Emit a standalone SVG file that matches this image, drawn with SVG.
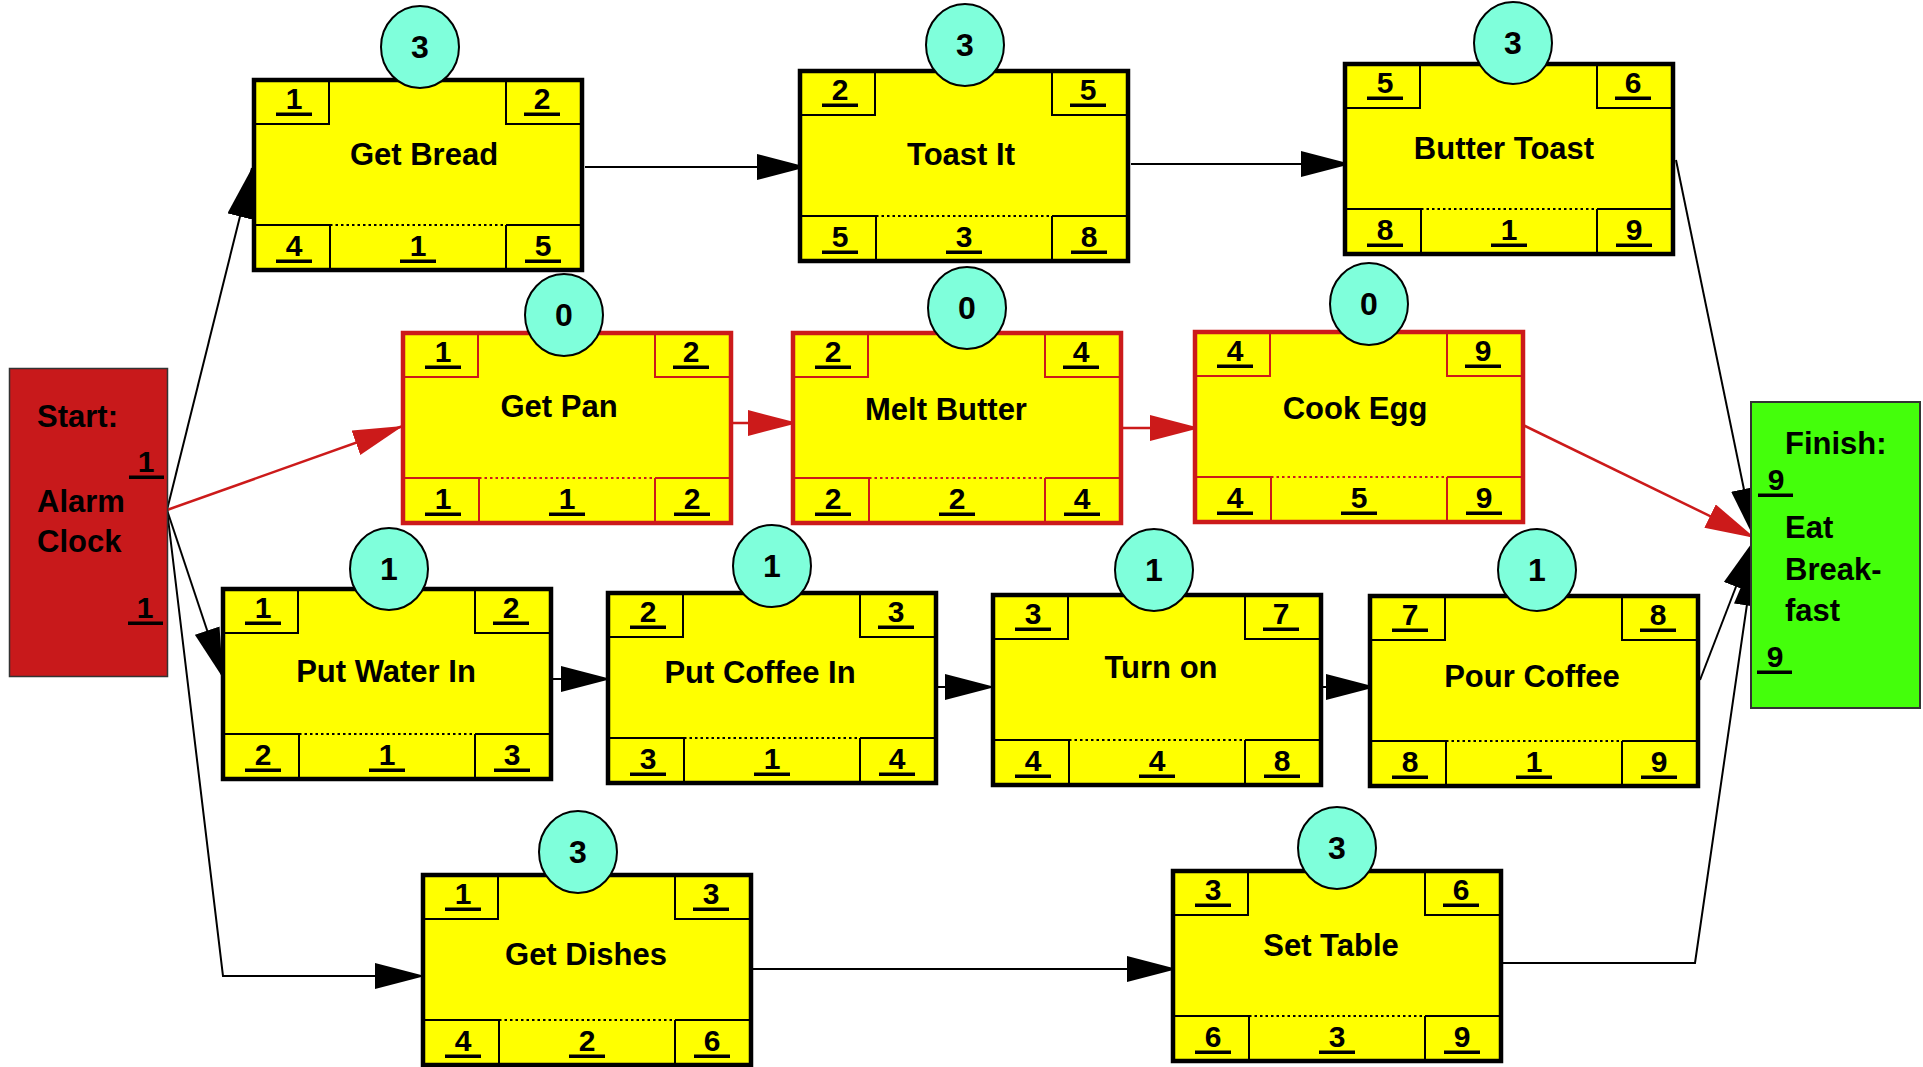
<svg xmlns="http://www.w3.org/2000/svg" width="1923" height="1067" viewBox="0 0 1923 1067">
<style>
text{font-family:"Liberation Sans",Arial,sans-serif;font-weight:bold;fill:#000}
.t{font-size:31px;text-anchor:middle}
.lt{font-size:31px}
.n{font-size:30px;text-anchor:middle}
.d{font-size:32px;text-anchor:middle}
.box{fill:#FFFF00;stroke:#000;stroke-width:4.5}
.rbox{fill:#FFFF00;stroke:#CC1A1A;stroke-width:4.5}
.cell{fill:none;stroke:#000;stroke-width:2}
.rcell{fill:none;stroke:#CC1A1A;stroke-width:2}
.dot{fill:none;stroke:#000;stroke-width:2;stroke-dasharray:2.5 3}
.rdot{fill:none;stroke:#CC1A1A;stroke-width:2;stroke-dasharray:2.5 3}
.dur{fill:#7FFFDB;stroke:#000;stroke-width:2}
.ul{fill:#000}
.c{fill:none;stroke:#000;stroke-width:2}
.rc{fill:none;stroke:#CC1A1A;stroke-width:2.5}
</style>
<defs>
<marker id="ab" markerUnits="userSpaceOnUse" markerWidth="50" markerHeight="26" viewBox="0 0 50 26" refX="50" refY="13" orient="auto"><path d="M0,0 L50,13 L0,26 z" fill="#000"/></marker>
<marker id="ar" markerUnits="userSpaceOnUse" markerWidth="50" markerHeight="26" viewBox="0 0 50 26" refX="50" refY="13" orient="auto"><path d="M0,0 L50,13 L0,26 z" fill="#CC1A1A"/></marker>
<g id="cellsK">
<path class="cell" d="M77,2 V46 H2 M254,2 V46 H330 M2,147 H78 M254,147 H330 M78,147 V192 M254,147 V192"/>
<path class="dot" d="M78,147 H254"/>
</g>
<g id="cellsR">
<path class="rcell" d="M77,2 V46 H2 M254,2 V46 H330 M2,147 H78 M254,147 H330 M78,147 V192 M254,147 V192"/>
<path class="rdot" d="M78,147 H254"/>
</g>
<g id="uls">
<rect class="ul" x="24" y="34.5" width="36" height="3.5"/>
<rect class="ul" x="272" y="34.5" width="36" height="3.5"/>
<rect class="ul" x="24" y="181.5" width="36" height="3.5"/>
<rect class="ul" x="148" y="181.5" width="36" height="3.5"/>
<rect class="ul" x="273" y="181.5" width="36" height="3.5"/>
</g>
</defs>

<g id="connectors">
<line class="c" x1="167" y1="510" x2="252" y2="168" marker-end="url(#ab)"/>
<line class="rc" x1="167" y1="510" x2="403" y2="426" marker-end="url(#ar)"/>
<line class="c" x1="167" y1="510" x2="223" y2="678" marker-end="url(#ab)"/>
<polyline class="c" points="167,510 223,976 425,976" marker-end="url(#ab)"/>
<line class="c" x1="585" y1="167" x2="807" y2="167" marker-end="url(#ab)"/>
<line class="c" x1="1131" y1="164" x2="1351" y2="164" marker-end="url(#ab)"/>
<line class="c" x1="1676" y1="160" x2="1754" y2="538" marker-end="url(#ab)"/>
<line class="rc" x1="732" y1="423" x2="798" y2="423" marker-end="url(#ar)"/>
<line class="rc" x1="1123" y1="428" x2="1200" y2="428" marker-end="url(#ar)"/>
<line class="rc" x1="1523" y1="425" x2="1755" y2="538" marker-end="url(#ar)"/>
<line class="c" x1="552" y1="679" x2="611" y2="679" marker-end="url(#ab)"/>
<line class="c" x1="937" y1="687" x2="995" y2="687" marker-end="url(#ab)"/>
<line class="c" x1="1323" y1="687" x2="1376" y2="687" marker-end="url(#ab)"/>
<line class="c" x1="1700" y1="680" x2="1754" y2="540" marker-end="url(#ab)"/>
<line class="c" x1="751" y1="969" x2="1177" y2="969" marker-end="url(#ab)"/>
<polyline class="c" points="1503,963 1695,963 1754,556" marker-end="url(#ab)"/>
</g>

<g id="start">
<rect x="9.5" y="368.5" width="158" height="308" fill="#C8191B" stroke="#333" stroke-width="1.5"/>
<text class="lt" x="37" y="427">Start:</text>
<text class="n" x="146" y="472">1</text>
<rect class="ul" x="129" y="475.5" width="35" height="3.5"/>
<text class="lt" x="37" y="512">Alarm</text>
<text class="lt" x="37" y="552">Clock</text>
<text class="n" x="145" y="618">1</text>
<rect class="ul" x="128" y="621.5" width="35" height="3.5"/>
</g>

<g id="finish">
<rect x="1751" y="402" width="169" height="306" fill="#44FF0B" stroke="#333" stroke-width="2"/>
<text class="lt" x="1785" y="454">Finish:</text>
<text class="n" x="1776" y="490">9</text>
<rect class="ul" x="1758" y="493.5" width="35" height="3.5"/>
<text class="lt" x="1785" y="538">Eat</text>
<text class="lt" x="1785" y="580">Break-</text>
<text class="lt" x="1785" y="621">fast</text>
<text class="n" x="1775" y="667">9</text>
<rect class="ul" x="1757" y="670.5" width="35" height="3.5"/>
</g>

<g id="getBread" transform="translate(252,78)">
<rect class="box" x="2" y="2" width="328" height="190"/>
<use href="#cellsK"/><use href="#uls"/>
<text class="n" x="42" y="31">1</text><text class="n" x="290" y="31">2</text>
<text class="n" x="42" y="178">4</text><text class="n" x="166" y="178">1</text><text class="n" x="291" y="178">5</text>
<text class="t" x="172" y="87">Get Bread</text>
<ellipse class="dur" cx="168" cy="-31" rx="39" ry="41"/><text class="d" x="168" y="-20">3</text>
</g>

<g id="toastIt" transform="translate(798,69)">
<rect class="box" x="2" y="2" width="328" height="190"/>
<use href="#cellsK"/><use href="#uls"/>
<text class="n" x="42" y="31">2</text><text class="n" x="290" y="31">5</text>
<text class="n" x="42" y="178">5</text><text class="n" x="166" y="178">3</text><text class="n" x="291" y="178">8</text>
<text class="t" x="163" y="96">Toast It</text>
<ellipse class="dur" cx="167" cy="-24" rx="39" ry="41"/><text class="d" x="167" y="-13">3</text>
</g>

<g id="butterToast" transform="translate(1343,62)">
<rect class="box" x="2" y="2" width="328" height="190"/>
<use href="#cellsK"/><use href="#uls"/>
<text class="n" x="42" y="31">5</text><text class="n" x="290" y="31">6</text>
<text class="n" x="42" y="178">8</text><text class="n" x="166" y="178">1</text><text class="n" x="291" y="178">9</text>
<text class="t" x="161" y="97">Butter Toast</text>
<ellipse class="dur" cx="170" cy="-19" rx="39" ry="41"/><text class="d" x="170" y="-8">3</text>
</g>

<g id="getPan" transform="translate(401,331)">
<rect class="rbox" x="2" y="2" width="328" height="190"/>
<use href="#cellsR"/><use href="#uls"/>
<text class="n" x="42" y="31">1</text><text class="n" x="290" y="31">2</text>
<text class="n" x="42" y="178">1</text><text class="n" x="166" y="178">1</text><text class="n" x="291" y="178">2</text>
<text class="t" x="158" y="86">Get Pan</text>
<ellipse class="dur" cx="163" cy="-16" rx="39" ry="41"/><text class="d" x="163" y="-5">0</text>
</g>

<g id="meltButter" transform="translate(791,331)">
<rect class="rbox" x="2" y="2" width="328" height="190"/>
<use href="#cellsR"/><use href="#uls"/>
<text class="n" x="42" y="31">2</text><text class="n" x="290" y="31">4</text>
<text class="n" x="42" y="178">2</text><text class="n" x="166" y="178">2</text><text class="n" x="291" y="178">4</text>
<text class="t" x="155" y="89">Melt Butter</text>
<ellipse class="dur" cx="176" cy="-23" rx="39" ry="41"/><text class="d" x="176" y="-12">0</text>
</g>

<g id="cookEgg" transform="translate(1193,330)">
<rect class="rbox" x="2" y="2" width="328" height="190"/>
<use href="#cellsR"/><use href="#uls"/>
<text class="n" x="42" y="31">4</text><text class="n" x="290" y="31">9</text>
<text class="n" x="42" y="178">4</text><text class="n" x="166" y="178">5</text><text class="n" x="291" y="178">9</text>
<text class="t" x="162" y="89">Cook Egg</text>
<ellipse class="dur" cx="176" cy="-26" rx="39" ry="41"/><text class="d" x="176" y="-15">0</text>
</g>

<g id="putWaterIn" transform="translate(221,587)">
<rect class="box" x="2" y="2" width="328" height="190"/>
<use href="#cellsK"/><use href="#uls"/>
<text class="n" x="42" y="31">1</text><text class="n" x="290" y="31">2</text>
<text class="n" x="42" y="178">2</text><text class="n" x="166" y="178">1</text><text class="n" x="291" y="178">3</text>
<text class="t" x="165" y="95">Put Water In</text>
<ellipse class="dur" cx="168" cy="-18" rx="39" ry="41"/><text class="d" x="168" y="-7">1</text>
</g>

<g id="putCoffeeIn" transform="translate(606,591)">
<rect class="box" x="2" y="2" width="328" height="190"/>
<use href="#cellsK"/><use href="#uls"/>
<text class="n" x="42" y="31">2</text><text class="n" x="290" y="31">3</text>
<text class="n" x="42" y="178">3</text><text class="n" x="166" y="178">1</text><text class="n" x="291" y="178">4</text>
<text class="t" x="154" y="92">Put Coffee In</text>
<ellipse class="dur" cx="166" cy="-25" rx="39" ry="41"/><text class="d" x="166" y="-14">1</text>
</g>

<g id="turnOn" transform="translate(991,593)">
<rect class="box" x="2" y="2" width="328" height="190"/>
<use href="#cellsK"/><use href="#uls"/>
<text class="n" x="42" y="31">3</text><text class="n" x="290" y="31">7</text>
<text class="n" x="42" y="178">4</text><text class="n" x="166" y="178">4</text><text class="n" x="291" y="178">8</text>
<text class="t" x="170" y="85">Turn on</text>
<ellipse class="dur" cx="163" cy="-23" rx="39" ry="41"/><text class="d" x="163" y="-12">1</text>
</g>

<g id="pourCoffee" transform="translate(1368,594)">
<rect class="box" x="2" y="2" width="328" height="190"/>
<use href="#cellsK"/><use href="#uls"/>
<text class="n" x="42" y="31">7</text><text class="n" x="290" y="31">8</text>
<text class="n" x="42" y="178">8</text><text class="n" x="166" y="178">1</text><text class="n" x="291" y="178">9</text>
<text class="t" x="164" y="93">Pour Coffee</text>
<ellipse class="dur" cx="169" cy="-24" rx="39" ry="41"/><text class="d" x="169" y="-13">1</text>
</g>

<g id="getDishes" transform="translate(421,873)">
<rect class="box" x="2" y="2" width="328" height="190"/>
<use href="#cellsK"/><use href="#uls"/>
<text class="n" x="42" y="31">1</text><text class="n" x="290" y="31">3</text>
<text class="n" x="42" y="178">4</text><text class="n" x="166" y="178">2</text><text class="n" x="291" y="178">6</text>
<text class="t" x="165" y="92">Get Dishes</text>
<ellipse class="dur" cx="157" cy="-21" rx="39" ry="41"/><text class="d" x="157" y="-10">3</text>
</g>

<g id="setTable" transform="translate(1171,869)">
<rect class="box" x="2" y="2" width="328" height="190"/>
<use href="#cellsK"/><use href="#uls"/>
<text class="n" x="42" y="31">3</text><text class="n" x="290" y="31">6</text>
<text class="n" x="42" y="178">6</text><text class="n" x="166" y="178">3</text><text class="n" x="291" y="178">9</text>
<text class="t" x="160" y="87">Set Table</text>
<ellipse class="dur" cx="166" cy="-21" rx="39" ry="41"/><text class="d" x="166" y="-10">3</text>
</g>
</svg>
